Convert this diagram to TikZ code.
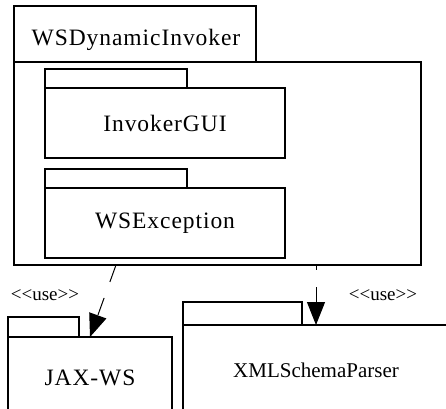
\documentclass[tikz,border=0pt]{standalone}
\usepackage{fontspec}
\setmainfont{Liberation Serif}
\newfontfamily\spacedfont[LetterSpace=4]{Liberation Serif}
\usetikzlibrary{arrows.meta}

\begin{document}
\begin{tikzpicture}[x=1pt, y=-1pt, line width=1.4pt,
        pkg/.style={draw, rectangle, inner sep=0pt, outer sep=0pt},
        pkgname/.style={font=\spacedfont\fontsize{23.5}{27}\selectfont},
        usedep/.style={-{Triangle[length=23pt, width=18pt]}, line width=1pt,
                       dash pattern=on 18pt off 17pt},
        stereo/.style={font=\fontsize{19}{22}\selectfont}]

        % page size, and cut what runs over the edge
        \useasboundingbox (0,0) rectangle (446,408);
        \clip (0,0) rectangle (446,408);
        \fill[white] (0,0) rectangle (446,408);

        % Parameters
        \def\tabH{19}           % height of an inner tab
        \def\innerW{240}        % width of an inner package body
        \def\innerH{70}         % height of an inner package body

        % outer package
        \node[pkg, minimum width=242, minimum height=56] (invTab) at (135,34) {};
        \node[pkgname] (invName) at (136,40) {WSDynamicInvoker};
        \node[pkg, minimum width=407, minimum height=203] (invBody) at (217.5,163.5) {};

        % inner packages
        \node[pkg, minimum width=142, minimum height=\tabH] (guiTab) at (116,78.5) {};
        \node[pkg, pkgname, minimum width=\innerW, minimum height=\innerH] (guiBody) at (165,123) {InvokerGUI};

        \node[pkg, minimum width=142, minimum height=\tabH] (excTab) at (116,178.5) {};
        \node[pkg, pkgname, minimum width=\innerW, minimum height=\innerH] (excBody) at (165,223) {WSException};

        % used packages
        \node[pkg, minimum width=71, minimum height=20] (jaxTab) at (43.5,327) {};
        \node[pkg, pkgname, minimum width=164, minimum height=82] (jaxBody) at (90,378) {JAX-WS};

        \node[pkg, minimum width=119, minimum height=23] (xmlTab) at (242.5,313.5) {};
        \node[pkg, minimum width=266, minimum height=90, font=\fontsize{21}{24}\selectfont] (xmlBody) at (316,370) {XMLSchemaParser};

        % dependencies
        \draw[usedep] (guiTab |- invBody.south) -- (jaxBody.north);
        \draw[usedep, dash phase=13pt] (xmlBody.north |- invBody.south) -- (xmlBody.north);

        \node[stereo] (useJax) at (45,295) {<{}<use>{}>};
        \node[stereo] (useXml) at (383,295) {<{}<use>{}>};

\end{tikzpicture}
\end{document}
